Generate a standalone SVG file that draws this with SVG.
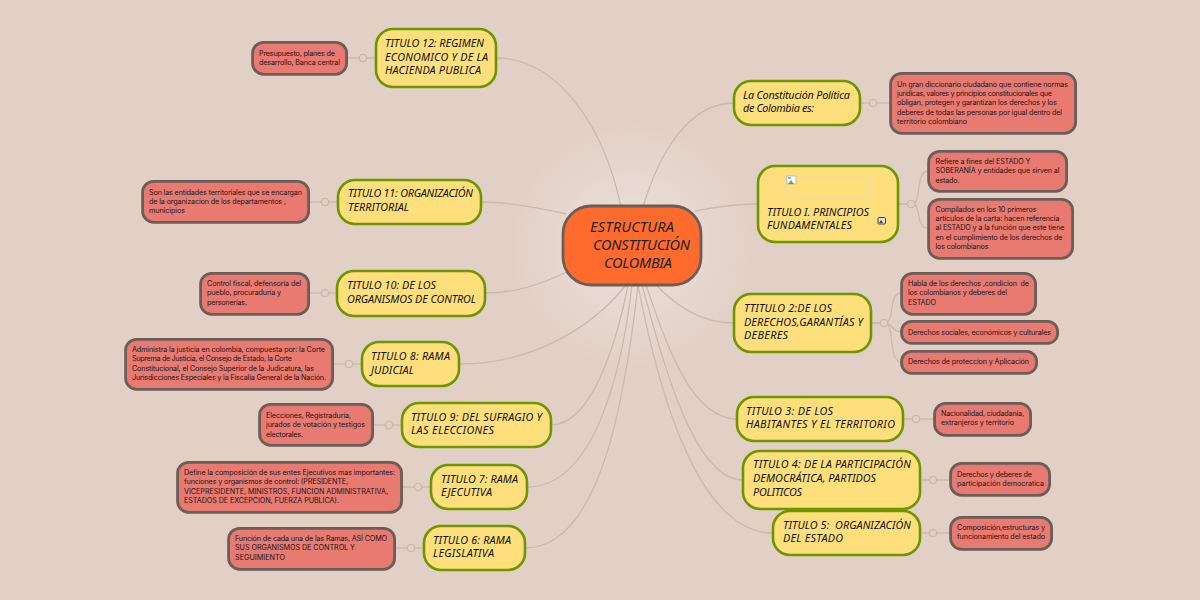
<svg xmlns="http://www.w3.org/2000/svg" width="1200" height="600" viewBox="0 0 1200 600">
<style>
.t{fill:#ffdf7c;stroke:#6f9600;stroke-width:2.6}
.r{fill:#e87a72;stroke:#6b5d57;stroke-width:2.8;transform:translate(.6px,.3px)}
.c{fill:#ff6b2d;stroke:#6b5d57;stroke-width:2.8}
.h{font-family:"Noto Sans","DejaVu Sans",sans-serif;font-style:italic;font-size:10.800px;fill:#111}
.b{font-family:"Inter","Liberation Sans",sans-serif;font-size:7.200px;fill:#241616}
.m{font-family:"Noto Sans","DejaVu Sans",sans-serif;font-style:italic;font-size:14.500px;fill:#222}
#links path{fill:none;stroke:#cbb9ad;stroke-width:1.3}
#links circle{fill:#e2d0c6;stroke:#cbb9ad;stroke-width:1.3}
</style>
<defs><radialGradient id="bg" gradientUnits="userSpaceOnUse" cx="632" cy="245" r="125"><stop offset="0" stop-color="#ece1db"/><stop offset="1" stop-color="#e2d0c6"/></radialGradient></defs>
<rect width="1200" height="600" fill="#e2d0c6"/>
<rect x="440" y="100" width="390" height="300" fill="url(#bg)"/>
<g id="links">
<path d="M621 207C605 130 560 58 496 58"/>
<path d="M566 214C540 208 510 202 481 202"/>
<path d="M567 272C545 282 520 293 485 293"/>
<path d="M626 285C590 330 530 364 459 364"/>
<path d="M628 285C615 350 590 425 551 425"/>
<path d="M632 285C622 370 595 487 527 487"/>
<path d="M638 285C625 400 600 548 525 548"/>
<path d="M643 207C660 150 690 103 734 103"/>
<path d="M695 211C715 207 735 204 758 204"/>
<path d="M656 285C675 305 700 323 734 323"/>
<path d="M646 285C665 340 690 419 737 419"/>
<path d="M642 285C665 370 695 480 743 480"/>
<path d="M638 285C660 400 700 533 773 533"/>
<path d="M346 58H376"/><path d="M308 202H338"/><path d="M308 293H337"/><path d="M332 364H362"/><path d="M372 425H402"/><path d="M401 487H431"/><path d="M394 548H424"/>
<path d="M860 103H890"/><path d="M898 204H912C922 204 915 171 928 171"/><path d="M898 204H912C922 204 915 228 928 228"/>
<path d="M871 323H885C895 323 888 293 901 293"/><path d="M871 323H885C892 323 893 332 901 332"/><path d="M871 323H885C895 323 888 362 901 362"/>
<path d="M903 419H934"/><path d="M920 480H950"/><path d="M920 533H950"/>
<circle cx="363" cy="58" r="3.700"/><circle cx="325" cy="202" r="3.700"/><circle cx="325" cy="293" r="3.700"/><circle cx="349" cy="364" r="3.700"/><circle cx="389" cy="425" r="3.700"/><circle cx="418" cy="487" r="3.700"/><circle cx="411" cy="548" r="3.700"/>
<circle cx="873" cy="103" r="3.700"/><circle cx="911" cy="204" r="3.700"/><circle cx="884" cy="323" r="3.700"/><circle cx="916" cy="419" r="3.700"/><circle cx="933" cy="480" r="3.700"/><circle cx="933" cy="533" r="3.700"/>
</g>
<g id="center"><rect class="c" x="563" y="206" width="138" height="79" rx="28"/>
<text class="m" x="590" y="232" textLength="84">ESTRUCTURA</text><text class="m" x="593" y="250" textLength="97">CONSTITUCIÓN</text><text class="m" x="604" y="268" textLength="68">COLOMBIA</text></g>
<g id="t12"><rect class="t" x="376" y="29" width="120" height="58" rx="17"/><text class="h" x="385" y="47" textLength="99">TITULO 12: REGIMEN</text><text class="h" x="385" y="61" textLength="103">ECONOMICO Y DE LA</text><text class="h" x="385" y="74" textLength="96">HACIENDA PUBLICA</text></g>
<g id="t11"><rect class="t" x="338" y="180" width="143" height="44" rx="17"/><text class="h" x="348" y="197" textLength="125">TITULO 11: ORGANIZACIÓN</text><text class="h" x="348" y="211" textLength="61">TERRITORIAL</text></g>
<g id="t10"><rect class="t" x="337" y="271" width="148" height="45" rx="17"/><text class="h" x="347" y="289" textLength="89">TITULO 10: DE LOS</text><text class="h" x="347" y="303" textLength="129">ORGANISMOS DE CONTROL</text></g>
<g id="t8"><rect class="t" x="362" y="342" width="97" height="44" rx="17"/><text class="h" x="371" y="360" textLength="79">TITULO 8: RAMA</text><text class="h" x="371" y="374" textLength="43">JUDICIAL</text></g>
<g id="t9"><rect class="t" x="402" y="403" width="149" height="44" rx="17"/><text class="h" x="411" y="421" textLength="131">TITULO 9: DEL SUFRAGIO Y</text><text class="h" x="411" y="434" textLength="83">LAS ELECCIONES</text></g>
<g id="t7"><rect class="t" x="431" y="465" width="96" height="44" rx="17"/><text class="h" x="441" y="483" textLength="77">TITULO 7: RAMA</text><text class="h" x="441" y="496" textLength="51">EJECUTIVA</text></g>
<g id="t6"><rect class="t" x="424" y="526" width="101" height="44" rx="17"/><text class="h" x="433" y="544" textLength="78">TITULO 6: RAMA</text><text class="h" x="433" y="557" textLength="61">LEGISLATIVA</text></g>
<g id="t0"><rect class="t" x="734" y="81" width="126" height="44" rx="17"/><text class="h" x="743" y="99" textLength="107">La Constitución Política</text><text class="h" x="743" y="112" textLength="71">de Colombia es:</text></g>
<g id="t1"><rect class="t" x="758" y="166" width="140" height="76" rx="17"/><rect x="786.500" y="176" width="84" height="22" rx="2" fill="none" stroke="#e8dcb0" stroke-width="1"/><path d="M787 176h9v8h-9z" fill="#fff" stroke="#99a" stroke-width=".6"/><path d="M788 184l3-4 3 4z" fill="#6aa84f"/><path d="M788 177h3v2h-3z" fill="#8ab4e8"/><text class="h" x="767" y="216" textLength="102">TITULO I. PRINCIPIOS</text><text class="h" x="767" y="229" textLength="85">FUNDAMENTALES</text><rect x="878" y="217.500" width="7.500" height="6.500" rx="1" fill="#ddd" stroke="#444" stroke-width="1"/><path d="M879 223l2-3 2 3z" fill="#444"/></g>
<g id="t2"><rect class="t" x="734" y="294" width="137" height="58" rx="17"/><text class="h" x="744" y="312" textLength="88">TTITULO 2:DE LOS</text><text class="h" x="744" y="326" textLength="119">DERECHOS,GARANTÍAS Y</text><text class="h" x="744" y="339" textLength="44">DEBERES</text></g>
<g id="t3"><rect class="t" x="737" y="397" width="166" height="44" rx="17"/><text class="h" x="746" y="415" textLength="87">TITULO 3: DE LOS</text><text class="h" x="746" y="428" textLength="149">HABITANTES Y EL TERRITORIO</text></g>
<g id="t4"><rect class="t" x="743" y="451" width="177" height="58" rx="17"/><text class="h" x="753" y="468" textLength="158">TITULO 4: DE LA PARTICIPACIÓN</text><text class="h" x="753" y="482" textLength="123">DEMOCRÁTICA, PARTIDOS</text><text class="h" x="753" y="496" textLength="49">POLITICOS</text></g>
<g id="t5"><rect class="t" x="773" y="511" width="147" height="44" rx="17"/><text class="h" x="783" y="529" textLength="128" xml:space="preserve">TITULO 5:  ORGANIZACIÓN</text><text class="h" x="783" y="542" textLength="60">DEL ESTADO</text></g>
<g id="r12"><rect class="r" x="252" y="42" width="94" height="32" rx="11"/><text class="b" x="259" y="56" textLength="76">Presupuesto, planes de</text><text class="b" x="259" y="65" textLength="81">desarrollo, Banca central</text></g>
<g id="r11"><rect class="r" x="142" y="181" width="166" height="41" rx="11"/><text class="b" x="149" y="195" textLength="153">Son las entidades territoriales que se encargan</text><text class="b" x="149" y="204" textLength="137">de la organizacion de los departamentos ,</text><text class="b" x="149" y="213" textLength="36">municipios</text></g>
<g id="r10"><rect class="r" x="200" y="273" width="108" height="41" rx="11"/><text class="b" x="207" y="286" textLength="94">Control fiscal, defensoría del</text><text class="b" x="207" y="295" textLength="74">pueblo, procuraduría y</text><text class="b" x="207" y="305" textLength="40">personerías.</text></g>
<g id="r8"><rect class="r" x="125" y="339" width="207" height="50" rx="11"/><text class="b" x="132" y="352" textLength="193">Administra la justicia en colombia, compuesta por: la Corte</text><text class="b" x="132" y="361" textLength="160">Suprema de Justicia, el Consejo de Estado, la Corte</text><text class="b" x="132" y="371" textLength="182">Constitucional, el Consejo Superior de la Judicatura, las</text><text class="b" x="132" y="380" textLength="194">Jurisdicciones Especiales y la Fiscalía General de la Nación.</text></g>
<g id="r9"><rect class="r" x="259" y="404" width="113" height="41" rx="11"/><text class="b" x="266" y="418" textLength="85">Elecciones, Registraduría,</text><text class="b" x="266" y="427" textLength="99">jurados de votación y testigos</text><text class="b" x="266" y="437" textLength="37">electorales.</text></g>
<g id="r7"><rect class="r" x="177" y="462" width="224" height="50" rx="11"/><text class="b" x="184" y="475" textLength="211">Define la composición de sus entes Ejecutivos mas importantes:</text><text class="b" x="184" y="484" textLength="164">funciones y organismos de control: (PRESIDENTE,</text><text class="b" x="184" y="494" textLength="204">VICEPRESIDENTE, MINISTROS, FUNCION ADMINISTRATIVA,</text><text class="b" x="184" y="503" textLength="155">ESTADOS DE EXCEPCION, FUERZA PUBLICA).</text></g>
<g id="r6"><rect class="r" x="228" y="528" width="166" height="41" rx="11"/><text class="b" x="235" y="541" textLength="152">Función de cada una de las Ramas, ASÍ COMO</text><text class="b" x="235" y="550" textLength="120">SUS ORGANISMOS DE CONTROL Y</text><text class="b" x="235" y="560" textLength="50">SEGUIMIENTO</text></g>
<g id="r0"><rect class="r" x="890" y="73" width="185" height="60" rx="11"/><text class="b" x="897" y="87" textLength="171">Un gran diccionario ciudadano que contiene normas</text><text class="b" x="897" y="96" textLength="155">jurídicas, valores y principios constitucionales que</text><text class="b" x="897" y="105" textLength="160">obligan, protegen y garantizan los derechos y los</text><text class="b" x="897" y="115" textLength="165">deberes de todas las personas por igual dentro del</text><text class="b" x="897" y="124" textLength="70">territorio colombiano</text></g>
<g id="r1a"><rect class="r" x="928" y="151" width="138" height="40" rx="11"/><text class="b" x="935.500" y="164" textLength="95">Refiere a fines del ESTADO Y</text><text class="b" x="935.500" y="173" textLength="124">SOBERANÍA y entidades que sirven al</text><text class="b" x="935.500" y="183" textLength="24">estado.</text></g>
<g id="r1b"><rect class="r" x="928" y="199" width="144" height="59" rx="11"/><text class="b" x="935.500" y="212" textLength="101">Compilados en los 10 primeros</text><text class="b" x="935.500" y="221" textLength="124">artículos de la carta: hacen referencia</text><text class="b" x="935.500" y="230" textLength="129">al ESTADO y a la función que este tiene</text><text class="b" x="935.500" y="240" textLength="127">en el cumplimiento de los derechos de</text><text class="b" x="935.500" y="249" textLength="53">los colombianos</text></g>
<g id="r2a"><rect class="r" x="901" y="273" width="134" height="41" rx="11"/><text class="b" x="908" y="286" textLength="121" xml:space="preserve">Habla de los derechos ,condicion  de</text><text class="b" x="908" y="295" textLength="99">los colombianos y deberes del</text><text class="b" x="908" y="305" textLength="28">ESTADO</text></g>
<g id="r2b"><rect class="r" x="901" y="321" width="156" height="22" rx="10"/><text class="b" x="908" y="335" textLength="143">Derechos sociales, económicos y culturales</text></g>
<g id="r2c"><rect class="r" x="901" y="351" width="135" height="22" rx="10"/><text class="b" x="908" y="364" textLength="121">Derechos de proteccion y Aplicación</text></g>
<g id="r3"><rect class="r" x="934" y="403" width="96" height="32" rx="11"/><text class="b" x="941" y="416" textLength="83">Nacionalidad, ciudadanía,</text><text class="b" x="941" y="425" textLength="73">extranjeros y territorio</text></g>
<g id="r4"><rect class="r" x="950" y="463" width="99" height="32" rx="11"/><text class="b" x="957" y="477" textLength="75">Derechos y deberes de</text><text class="b" x="957" y="486" textLength="87">participación democratica</text></g>
<g id="r5"><rect class="r" x="950" y="517" width="101" height="32" rx="11"/><text class="b" x="957" y="530" textLength="88">Composición,estructuras y</text><text class="b" x="957" y="539" textLength="88">funcionamiento del estado</text></g>
</svg>
